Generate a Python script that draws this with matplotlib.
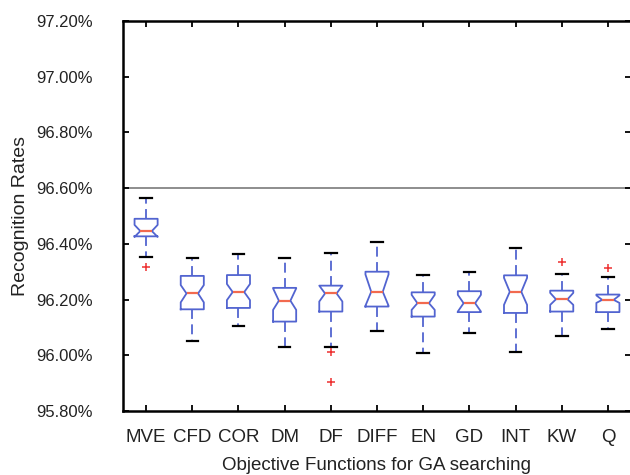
import matplotlib
matplotlib.use('Agg')
import matplotlib.pyplot as plt
from matplotlib.ticker import FuncFormatter

plt.rcParams['font.family'] = ['Liberation Sans', 'DejaVu Sans']

categories = ['MVE', 'CFD', 'COR', 'DM', 'DF', 'DIFF', 'EN', 'GD', 'INT', 'KW', 'Q']
medians = [96.446, 96.222, 96.227, 96.196, 96.222, 96.228, 96.187, 96.187, 96.228, 96.201, 96.199]
q1_vals = [96.427, 96.165, 96.170, 96.121, 96.157, 96.175, 96.139, 96.155, 96.152, 96.157, 96.155]
q3_vals = [96.490, 96.285, 96.288, 96.242, 96.250, 96.300, 96.226, 96.230, 96.287, 96.232, 96.218]
whisker_low = [96.353, 96.051, 96.105, 96.030, 96.030, 96.087, 96.008, 96.080, 96.012, 96.069, 96.094]
whisker_high = [96.565, 96.349, 96.364, 96.351, 96.367, 96.407, 96.288, 96.298, 96.385, 96.290, 96.280]
notch_low = [96.425, 96.190, 96.198, 96.163, 96.193, 96.178, 96.163, 96.157, 96.181, 96.181, 96.188]
notch_high = [96.468, 96.252, 96.256, 96.240, 96.250, 96.290, 96.217, 96.217, 96.278, 96.224, 96.215]
outliers = [[96.317], [], [], [], [96.012, 95.904], [], [], [], [], [96.334], [96.312]]
reference_rate = 96.6
y_ticks = [95.8, 96.0, 96.2, 96.4, 96.6, 96.8, 97.0, 97.2]

stats = []
for i, c in enumerate(categories):
    stats.append(dict(label=c, med=medians[i], q1=q1_vals[i], q3=q3_vals[i],
                      whislo=whisker_low[i], whishi=whisker_high[i],
                      cilo=notch_low[i], cihi=notch_high[i], fliers=outliers[i]))

fig = plt.figure(figsize=(6.3, 4.75), dpi=100)
ax = fig.add_axes([123/630, 64/475, 508/630, 390/475])

blue = '#5264d0'
ax.axhline(reference_rate, color='#7a7a7a', lw=1.2, zorder=1)
ax.bxp(stats, positions=range(1, len(categories) + 1), widths=0.5, shownotches=True,
       boxprops=dict(color=blue, lw=1.3),
       whiskerprops=dict(color=blue, lw=1.3, linestyle=(0, (5.5, 3))),
       capprops=dict(color='black', lw=1.6),
       medianprops=dict(color='#f26a4f', lw=1.6),
       flierprops=dict(marker='+', markeredgecolor='#ee3030', markersize=6, markeredgewidth=1.1,
                       linestyle='none'))

ax.set_xlim(0.5, len(categories) + 0.5)
ax.set_ylim(95.8, 97.2)
ax.set_yticks(y_ticks)
ax.yaxis.set_major_formatter(FuncFormatter(lambda v, p: '%.2f%%' % v))
ax.set_xticks(range(1, len(categories) + 1))
ax.set_xticklabels(categories)

for s in ax.spines.values():
    s.set_linewidth(1.8)
    s.set_color('black')

ax.tick_params(axis='both', direction='in', length=4, width=1.3, top=True, right=True,
               labelcolor='#222222')
ax.tick_params(axis='x', pad=13, labelsize=13.5)
ax.tick_params(axis='y', pad=22, labelsize=12)

ax.set_xlabel('Objective Functions for GA searching', fontsize=13.5, color='#222222', labelpad=8)
ax.set_ylabel('Recognition Rates', fontsize=14, color='#222222', labelpad=5)

fig.savefig('out.png', dpi=100)
